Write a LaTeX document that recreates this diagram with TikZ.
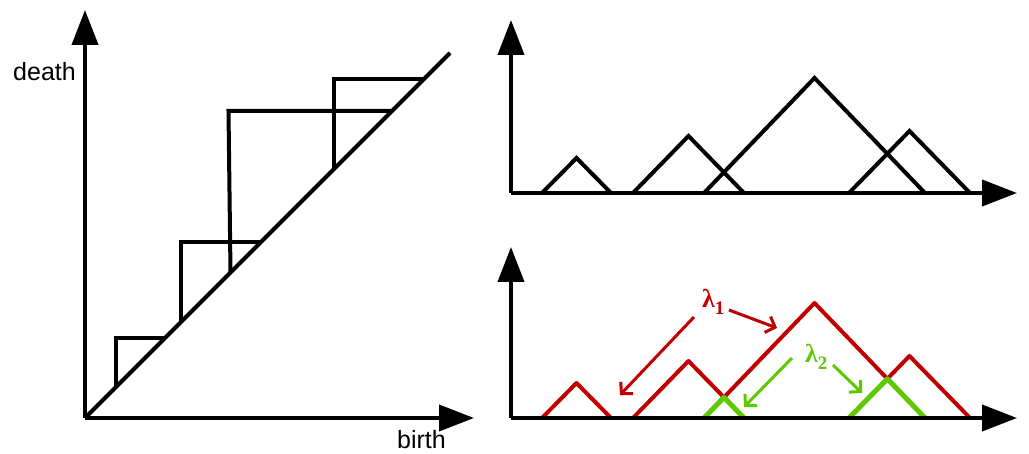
\documentclass[tikz,border=0pt]{standalone}
\usepackage{fontspec}
\setmainfont{Liberation Sans}
\newfontfamily\lamfont{Liberation Serif}
\usetikzlibrary{arrows.meta}
\definecolor{lamred}{RGB}{192,0,0}
\definecolor{lamgreen}{RGB}{94,200,0}
\begin{document}
\begin{tikzpicture}[x=1pt,y=-1pt,
  axis/.style={line width=4pt,-{Triangle[length=35pt,width=26pt]}},
  blk/.style={line width=4pt,black},
  redl/.style={line width=4pt,lamred,line join=round},
  grnl/.style={line width=5pt,lamgreen,line join=round},
  redarr/.style={line width=3pt,lamred,-{Straight Barb[length=8pt,width=17pt]}},
  grnarr/.style={line width=3pt,lamgreen,-{Straight Barb[length=8pt,width=17pt]}},
  axlabel/.style={font=\fontsize{25}{25}\selectfont,inner sep=0pt},
  lamlabel/.style={inner sep=0pt,font=\lamfont\bfseries\fontsize{26}{26}\selectfont}]
\useasboundingbox (0,0) rectangle (1029,454);

% ---------- left panel: persistence diagram ----------
\coordinate (O) at (85,418);
\coordinate (Ytip) at (85,10);
\coordinate (Xtip) at (474,418);
\coordinate (Dend) at (450,53);
\draw[axis] (O) -- (Ytip);
\draw[axis] (O) -- (Xtip);
\draw[blk] (O) -- (Dend);
\draw[blk] (116,387) -- (116,338) -- (165,338);
\draw[blk] (181,322) -- (181,242) -- (261,242);
\draw[blk] (230.5,272.5) -- (228.5,111) -- (392,111);
\draw[blk] (334,169) -- (334,79) -- (424,79);
\node[axlabel,anchor=base east] (death) at (76,81) {death};
\node[axlabel,anchor=base west] (birth) at (397,449) {birth};

% ---------- top right panel: landscape tents ----------
\coordinate (O2) at (511,193);
\draw[axis] (O2) -- (511,20);
\draw[axis] (O2) -- (1017,193);
\draw[blk] (542,193) -- (576.5,158) -- (611,193);
\draw[blk] (633,193) -- (688.5,136) -- (744,193);
\draw[blk] (704,193) -- (814.5,78) -- (925,193);
\draw[blk] (849,193) -- (909.5,131) -- (970,193);

% ---------- bottom right panel: lambda_1, lambda_2 ----------
\coordinate (O3) at (511,418);
\coordinate (A1) at (542,418);  \coordinate (P1) at (576.5,383); \coordinate (B1) at (611,418);
\coordinate (A2) at (633,418);  \coordinate (P2) at (688.5,361); \coordinate (B2) at (744,418);
\coordinate (A3) at (704,418);  \coordinate (P3) at (814.5,303); \coordinate (B3) at (925,418);
\coordinate (A4) at (849,418);  \coordinate (P4) at (909.5,356); \coordinate (B4) at (970,418);
\coordinate (X23) at (intersection of P2--B2 and A3--P3);
\coordinate (X34) at (intersection of P3--B3 and A4--P4);

\draw[redl] (A1) -- (P1) -- (B1);
\draw[redl] (A2) -- (P2) -- (X23) -- (P3) -- (X34) -- (P4) -- (B4);
\draw[grnl] (A3) -- (X23) -- (B2);
\draw[grnl] (A4) -- (X34) -- (B3);
\draw[axis] (O3) -- (511,247);
\draw[axis] (O3) -- (1017,418);

\node[lamlabel,text=lamred,anchor=base west] (l1) at (702,308)
  {λ\raisebox{-7pt}{\fontsize{19}{19}\selectfont 1}};
\node[lamlabel,text=lamgreen,anchor=base west] (l2) at (805,363)
  {λ\raisebox{-7pt}{\fontsize{19}{19}\selectfont 2}};

\coordinate (r1s) at (694,317); \coordinate (r1e) at (620,395);
\coordinate (r2s) at (729,310); \coordinate (r2e) at (777,328);
\coordinate (g1s) at (792,358); \coordinate (g1e) at (744,407);
\coordinate (g2s) at (833,365); \coordinate (g2e) at (862,393);
\draw[redarr] (r1s) -- (r1e);
\draw[redarr] (r2s) -- (r2e);
\draw[grnarr] (g1s) -- (g1e);
\draw[grnarr] (g2s) -- (g2e);
\end{tikzpicture}
\end{document}
